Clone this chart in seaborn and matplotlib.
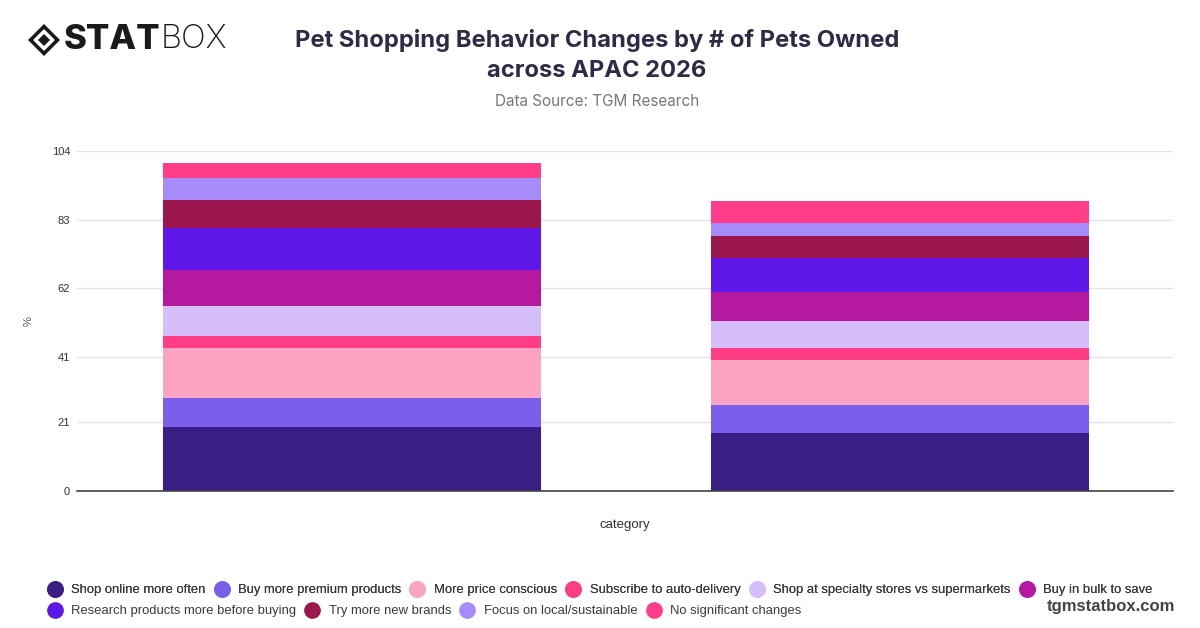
import pandas as pd
import matplotlib.pyplot as plt
import seaborn as sns
from matplotlib.lines import Line2D
from matplotlib.patches import Polygon

categories = ['1 pet', '2+ pets']
series_names = ['Shop online more often', 'Buy more premium products', 'More price conscious',
                'Subscribe to auto-delivery', 'Shop at specialty stores vs supermarkets', 'Buy in bulk to save',
                'Research products more before buying', 'Try more new brands', 'Focus on local/sustainable',
                'No significant changes']
shop_online = [19.5, 17.8]
premium = [8.8, 8.4]
price_conscious = [15.4, 13.8]
auto_delivery = [3.6, 3.8]
specialty = [9.3, 8.3]
bulk = [11.0, 8.9]
research = [12.8, 10.3]
new_brands = [8.6, 6.6]
local = [6.7, 4.2]
no_change = [4.6, 6.6]
colors = ['#3a1e86', '#7b5fea', '#fca2c2', '#ff3d85', '#d6bdfb', '#b5199f',
          '#5e17e8', '#9b174e', '#a78bfa', '#ff3d88']

values = [shop_online, premium, price_conscious, auto_delivery, specialty, bulk,
          research, new_brands, local, no_change]
df = pd.DataFrame({name: v for name, v in zip(series_names, values)}, index=categories)
cum = df.cumsum(axis=1)

sns.set_style('white')
plt.rcParams['font.family'] = ['Liberation Sans', 'DejaVu Sans']

fig = plt.figure(figsize=(12, 6.28), dpi=100)
ax = fig.add_axes([0.0642, 0.2182, 0.9133, 0.5414])

# stacked bars: draw cumulative totals from the top series down
for name, col in reversed(list(zip(series_names, colors))):
    sns.barplot(x=categories, y=cum[name].values, color=col, width=0.69,
                saturation=1, linewidth=0, ax=ax)

ax.set_ylim(0, 104)
ax.set_xlim(-0.502, 1.498)
ax.set_yticks([0, 21, 41, 62, 83, 104])
ax.set_xticks([])
ax.yaxis.grid(True, color='#e3e3e3', linewidth=1)
ax.set_axisbelow(True)
for s in ['left', 'right', 'top']:
    ax.spines[s].set_visible(False)
ax.spines['bottom'].set_color('#444444')
ax.spines['bottom'].set_linewidth(1.2)
ax.tick_params(axis='y', length=0, labelsize=8, labelcolor='#333333', pad=5)
ax.set_ylabel('%', fontsize=8, color='#555555', labelpad=13)
ax.set_xlabel('category', fontsize=9.5, color='#333333', labelpad=20)

# titles
fig.text(0.4975, 0.936, 'Pet Shopping Behavior Changes by # of Pets Owned', ha='center', va='center',
         fontsize=17.1, fontweight='bold', color='#2e2a47', family=['Inter', 'DejaVu Sans'])
fig.text(0.4975, 0.887, 'across APAC 2026', ha='center', va='center',
         fontsize=17.1, fontweight='bold', color='#2e2a47', family=['Inter', 'DejaVu Sans'])
fig.text(0.4975, 0.839, 'Data Source: TGM Research', ha='center', va='center',
         fontsize=11, color='#777777', family=['Inter', 'DejaVu Sans'])

# logo
fig.patches.append(Polygon([(44 / 1200, 1 - 23 / 628), (61 / 1200, 1 - 40 / 628),
                            (44 / 1200, 1 - 57 / 628), (27 / 1200, 1 - 40 / 628)],
                           closed=True, transform=fig.transFigure, facecolor='#1a1a1a'))
fig.patches.append(Polygon([(44 / 1200, 1 - 30 / 628), (54 / 1200, 1 - 40 / 628),
                            (44 / 1200, 1 - 50 / 628), (34 / 1200, 1 - 40 / 628)],
                           closed=True, transform=fig.transFigure, facecolor='white'))
fig.patches.append(Polygon([(44 / 1200, 1 - 33 / 628), (51 / 1200, 1 - 40 / 628),
                            (44 / 1200, 1 - 47 / 628), (37 / 1200, 1 - 40 / 628)],
                           closed=True, transform=fig.transFigure, facecolor='#1a1a1a'))
fig.text(64 / 1200, 1 - 40 / 628, 'STAT', ha='left', va='center', fontsize=25,
         fontweight='heavy', color='#1a1a1a', family=['Inter', 'DejaVu Sans'])
fig.text(161 / 1200, 1 - 40 / 628, 'BOX', ha='left', va='center', fontsize=23.5,
         fontweight='light', color='#1a1a1a', family=['Inter', 'DejaVu Sans'])

# legend in two flowing rows
handles = [Line2D([], [], marker='o', linestyle='none', markersize=11,
                  markerfacecolor=c, markeredgecolor=c) for c in colors]
leg_kw = dict(frameon=False, fontsize=9.4, handlelength=1.0, handletextpad=0.75,
              columnspacing=0.75, borderaxespad=0, borderpad=0, labelcolor='#3a3a3a')
leg1 = fig.legend(handles[:6], series_names[:6], ncol=6, loc='center left',
                  bbox_to_anchor=(0.04, 1 - 590 / 628), **leg_kw)
fig.legend(handles[6:], series_names[6:], ncol=4, loc='center left',
           bbox_to_anchor=(0.04, 1 - 611 / 628), **leg_kw)
fig.add_artist(leg1)

fig.text(0.979, 1 - 607 / 628, 'tgmstatbox.com', ha='right', va='center', fontsize=12,
         fontweight='bold', color='#444444', family=['Liberation Sans', 'DejaVu Sans'])

fig.savefig('out.png', dpi=100)
